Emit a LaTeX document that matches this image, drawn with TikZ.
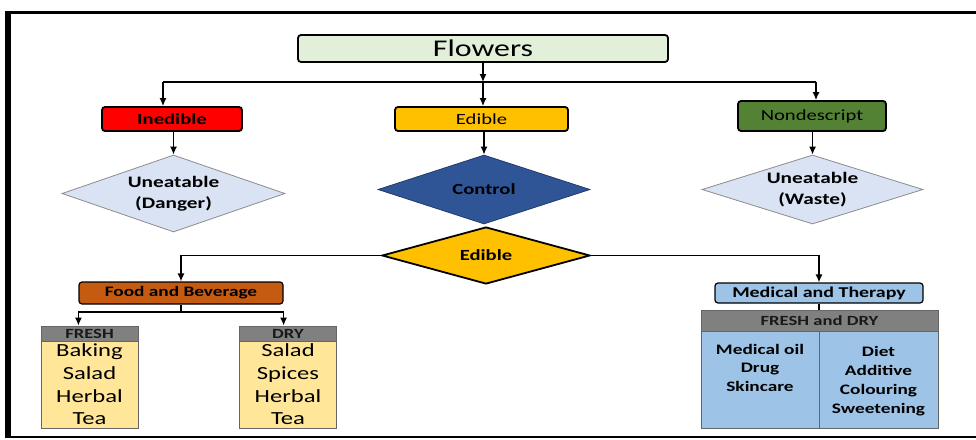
\documentclass[tikz,border=0pt]{standalone}
\usepackage{fontspec}
\setmainfont{Carlito}[FakeStretch=1.33]
\usetikzlibrary{shapes.geometric,arrows.meta}
\definecolor{flowerGreen}{HTML}{E2F0D9}
\definecolor{inedibleRed}{HTML}{FF0000}
\definecolor{edibleGold}{HTML}{FFC000}
\definecolor{nondescriptGreen}{HTML}{548235}
\definecolor{uneatableGrey}{HTML}{DAE3F3}
\definecolor{controlBlue}{HTML}{2F5597}
\definecolor{foodOrange}{HTML}{C55A11}
\definecolor{medicalBlue}{HTML}{9DC3E6}
\definecolor{headGrey}{HTML}{808080}
\definecolor{freshYellow}{HTML}{FFE699}
\begin{document}
\begin{tikzpicture}
[x=1pt,y=-1pt,
  lineDecorate/.style={-,line width=1.3pt},%
  arrowDecorate/.style={-{Latex[length=8pt,width=7pt]},line width=1.3pt},
  boxDecorate/.style={shape=rectangle,rounded corners=3pt,draw,line width=1.8pt,
    inner sep=0pt,font=\fontsize{15.5}{18}\selectfont},
  diamondDecorate/.style={shape=diamond,aspect=3,inner sep=0pt,align=center,
    draw=black!45,line width=0.8pt,fill=uneatableGrey,
    font=\bfseries\fontsize{16}{21}\selectfont},
  headDecorate/.style={shape=rectangle,draw=black!60,line width=0.8pt,fill=headGrey,
    inner sep=0pt,text=black!90,font=\bfseries\fontsize{14}{16}\selectfont},
  bodyDecorate/.style={shape=rectangle,draw=black!60,line width=0.8pt,inner sep=0pt,align=center}]
\useasboundingbox (0,0) rectangle (976,439);
%% frame
\draw[line width=3pt] (7,12) -- (976,12);
\draw[line width=6pt] (8,10.5) -- (8,437);
\draw[line width=2pt] (5,437) -- (976,437);
%% top boxes
\node (flowers) at (483,48.5) [boxDecorate,fill=flowerGreen,minimum width=370pt,
  minimum height=27pt,font=\fontsize{24}{26}\selectfont] {Flowers};
\foreach \nodename/\x/\y/\w/\h/\col/\txt in {
  inedible/172/119/140/24/inedibleRed/\textbf{Inedible},
  edible/481.5/119/173/24/edibleGold/Edible,
  nondescript/812/116/148/30/nondescriptGreen/Nondescript}
{
  \node (\nodename) at (\x,\y) [boxDecorate,fill=\col,minimum width=\w pt,minimum height=\h pt] {\txt};
}
%% diamonds
\foreach \nodename/\x/\y/\w/\h/\txt in {
  danger/173.5/193.5/223/77/{Uneatable\\(Danger)},
  waste/812.5/189.5/221/69/{Uneatable\\(Waste)}}
{
  \node (\nodename) at (\x,\y) [diamondDecorate,minimum width=\w pt,minimum height=\h pt] {\txt};
}
\node (control) at (484,189.5) [diamondDecorate,fill=controlBlue,draw=controlBlue!70!black,
  minimum width=212pt,minimum height=69pt,font=\bfseries\fontsize{15.5}{18}\selectfont] {Control};
\node (choice) at (486,255.5) [diamondDecorate,fill=edibleGold,draw=black,line width=1.8pt,
  minimum width=208pt,minimum height=57pt,font=\bfseries\fontsize{15.5}{18}\selectfont] {Edible};
%% uses
\node (food) at (181,293) [boxDecorate,fill=foodOrange,line width=1.2pt,minimum width=204pt,
  minimum height=22pt,font=\bfseries\fontsize{14.5}{16}\selectfont] {Food and Beverage};
\node (medical) at (819,293) [boxDecorate,fill=medicalBlue,line width=1.2pt,minimum width=208pt,
  minimum height=20pt,font=\bfseries\fontsize{15}{16}\selectfont] {Medical and Therapy};
%% tables
\foreach \nodename/\x/\txt/\items in {
  fresh/89.5/FRESH/{Baking\\Salad\\Herbal\\Tea},
  dry/288/DRY/{Salad\\Spices\\Herbal\\Tea}}
{
  \node (\nodename Head) at (\x,333.5) [headDecorate,minimum width=97pt,minimum height=15pt] {\txt};
  \node (\nodename Body) at (\x,384.5) [bodyDecorate,fill=freshYellow,minimum width=97pt,
    minimum height=87pt,font=\fontsize{18.5}{22.7}\selectfont] {\items};
}
\node (medHead) at (819.5,320.5) [headDecorate,minimum width=237pt,minimum height=21pt] {FRESH and DRY};
\node (medLeft) at (760,379.5) [bodyDecorate,fill=medicalBlue,minimum width=118pt,minimum height=97pt] {};
\node (medRight) at (878.5,379.5) [bodyDecorate,fill=medicalBlue,minimum width=119pt,minimum height=97pt] {};
\node (medLeftText) at (medLeft.north) [anchor=north,yshift=-10pt,align=center,
  font=\bfseries\fontsize{14.5}{18.5}\selectfont] {Medical oil\\Drug\\Skincare};
\node (medRightText) at (medRight.north) [anchor=north,yshift=-12pt,align=center,
  font=\bfseries\fontsize{14.5}{19}\selectfont] {Diet\\Additive\\Colouring\\Sweetening};
%% connectors
\coordinate (split) at (483,82);
\coordinate (splitLeft) at (163,82);
\coordinate (splitRight) at (816,82);
\coordinate (foodSplit) at (181,312);
\draw[arrowDecorate] (flowers.south) -- (split);
\draw[lineDecorate] (splitLeft) -- (splitRight);
\draw[arrowDecorate] (splitLeft) -- (splitLeft |- inedible.north);
\draw[arrowDecorate] (split) -- (split |- edible.north);
\draw[arrowDecorate] (splitRight) -- (splitRight |- nondescript.north);
\foreach \startnode/\endnode in {inedible/danger, edible/control, nondescript/waste}
{
  \draw[arrowDecorate] (\endnode.north |- \startnode.south) -- (\endnode.north);
}
\draw[arrowDecorate] (choice.west) -| (food.north);
\draw[arrowDecorate] (choice.east) -| (medical.north);
\draw[lineDecorate] (food.south) -- (foodSplit);
\draw[arrowDecorate] (foodSplit) -| (food.west |- freshHead.north);
\draw[arrowDecorate] (foodSplit) -| (food.east |- dryHead.north);
\draw[lineDecorate] (medical.south) -- (medHead.north -| medical.south);
\end{tikzpicture}
\end{document}
